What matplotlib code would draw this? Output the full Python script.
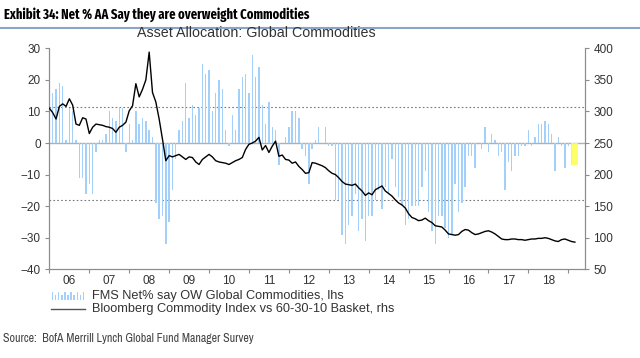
import numpy as np
import pandas as pd
import matplotlib
matplotlib.use("Agg")
import matplotlib.pyplot as plt
from matplotlib import font_manager

# ====================
# DATOS
# ====================
# FMS net % saying overweight global commodities (monthly, Jan 2006 - Feb 2019)
fms_net = [
    16, 17, 19, 18, 1, 11, 10, 1, -11, -11, -16, -13,          # 2006
    -16, -3, 1, 1, 3, 10, 8, 7, 11, 11, -3, 6,                 # 2007
    1, 10, 6, 8, 7, 4, 2, -19, -24, -23, -32, -25,             # 2008
    -15, -5, 4, 7, 19, 8, 12, 9, 11, 25, 22, 23,               # 2009
    10, 16, 20, 17, 4, -1, 9, 4, 17, 21, 22, 16,               # 2010
    28, 21, 24, 12, 6, 13, 5, 4, -7, 0, 2, 5,                  # 2011
    10, 10, 8, -2, -4, -13, -2, 1, 5, 0, 5, -1,                # 2012
    -1, -18, -18, -29, -32, -26, -23, -16, -28, -24, -31, -23, # 2013
    -23, -18, -15, -21, -14, -16, -5, -14, -17, -20, -26, -24, # 2014
    -20, -20, -20, -14, -9, -22, -28, -32, -23, -23, -27, -30, # 2015
    -29, -13, -22, -19, -14, -4, -4, -8, 0, -2, 5, -3,         # 2016
    3, 1, -4, -3, -15, -6, -9, -4, -4, -1, -1, 4,              # 2017
    -1, 2, 6, 6, 7, 6, 3, -9, 2, -1, -8, -1,                   # 2018
    -7, -7,                                                    # 2019
]
fms_start = "2006-01"

# Bloomberg Commodity Index vs 60-30-10 basket (rhs), start of each month
bcom_rel = [
    305, 298, 288, 308, 312, 308, 320, 310, 280, 278, 290, 288,  # 2006
    265, 275, 280, 279, 278, 276, 275, 273, 267, 275, 278, 283,  # 2007
    301, 309, 344, 323, 335, 350, 394, 330, 315, 288, 256, 222,  # 2008
    230, 228, 230, 232, 228, 224, 228, 227, 220, 216, 224, 228,  # 2009
    232, 228, 222, 220, 219, 218, 216, 219, 222, 224, 227, 240,  # 2010
    248, 250, 253, 259, 239, 246, 235, 245, 253, 229, 231, 224,  # 2011
    223, 218, 220, 213, 208, 202, 203, 219, 218, 216, 214, 211,  # 2012
    206, 202, 200, 195, 189, 185, 184, 183, 185, 179, 174, 167,  # 2013
    171, 168, 176, 179, 182, 174, 170, 166, 160, 155, 152, 147,  # 2014
    138, 132, 130, 127, 128, 131, 127, 124, 119, 118, 117, 112,  # 2015
    106, 105, 104, 105, 110, 113, 112, 108, 105, 106, 108, 110,  # 2016
    111, 109, 106, 102, 98, 97, 97, 98, 98, 97, 97, 96,          # 2017
    97, 98, 98, 99, 99, 100, 99, 97, 95, 94, 97, 98,             # 2018
    96, 94, 93,                                                  # 2019
]
bcom_start = "2006-01"

upper_band = 11.5
lower_band = -18

year_labels = ["06", "07", "08", "09", "10", "11", "12",
               "13", "14", "15", "16", "17", "18"]

# ====================
# ESTILO
# ====================
disponibles = {f.name for f in font_manager.fontManager.ttflist}

def elegir(*opciones):
    for o in opciones:
        if o in disponibles:
            return o
    return "DejaVu Sans"

fuente = elegir("Liberation Sans", "Arimo")
fuente_titulo = elegir("Fira Sans Extra Condensed", "Fira Sans Condensed", "Archivo Narrow")
fuente_fuente = elegir("Archivo Narrow", "Fira Sans Extra Condensed")
plt.rcParams["font.family"] = [fuente, "DejaVu Sans"]

azul = "#a3d0fb"
gris_txt = "#333333"
gris_eje = "#8c8c8c"

meses_fms = pd.period_range(fms_start, periods=len(fms_net), freq="M")
x_fms = meses_fms.year + meses_fms.month / 12.0          # fin de mes
meses_bc = pd.period_range(bcom_start, periods=len(bcom_rel), freq="M")
x_bc = meses_bc.year + (meses_bc.month - 1) / 12.0       # inicio de mes

# ====================
# FIGURA
# ====================
W, H = 640, 358
fig = plt.figure(figsize=(W / 100, H / 100), dpi=100)
ax = fig.add_axes([49 / W, 1 - 269.3 / H, 536 / W, 221 / H])
ax2 = ax.twinx()

ax.axhline(0, color="#b0b0b0", lw=1.0, zorder=1)
ax.axhline(upper_band, color="#7a7a7a", lw=0.8, ls=(0, (1.5, 2)), zorder=1)
ax.axhline(lower_band, color="#7a7a7a", lw=0.8, ls=(0, (1.5, 2)), zorder=1)

ax.bar(x_fms[:-1], fms_net[:-1], width=0.035, color=azul, zorder=2)
ax.bar(x_fms[-1:], fms_net[-1:], width=0.17, color="#ffff4d", alpha=0.85,
       zorder=3)

ax2.plot(x_bc, bcom_rel, color="black", lw=1.0, zorder=4)

ax.set_xlim(2005.99, 2019.42)
ax.set_ylim(-40, 30)
ax2.set_ylim(50, 400)
ax.set_yticks(np.arange(-40, 31, 10))
ax2.set_yticks(np.arange(50, 401, 50))

years = np.arange(2006, 2020)
ax.set_xticks(years)
ax.set_xticklabels([])
ax.set_xticks(years[:-1] + 0.5, minor=True)
ax.set_xticklabels(year_labels, minor=True)
ax.tick_params(axis="x", which="minor", length=0, pad=4)
ax.tick_params(axis="x", which="major", length=3, color=gris_eje)

for a in (ax, ax2):
    a.spines["top"].set_visible(False)
    for s in ("left", "right", "bottom"):
        a.spines[s].set_color(gris_eje)
    a.tick_params(axis="y", length=3, color=gris_eje, labelsize=8.5,
                  labelcolor=gris_txt, pad=3)
ax.tick_params(axis="x", which="both", labelsize=8.5, labelcolor=gris_txt)
ax.set_zorder(ax2.get_zorder() - 1)
ax.patch.set_visible(True)
ax2.patch.set_visible(False)

# ====================
# TEXTOS
# ====================
titulo = fig.text(4 / W, 1 - 15 / H,
                  "Exhibit 34: Net % AA Say they are overweight Commodities",
                  family=[fuente_titulo, "DejaVu Sans"], fontsize=11,
                  fontweight="bold", color="black", va="center")
fig.add_artist(plt.Line2D([0, 1], [1 - 27.5 / H, 1 - 27.5 / H],
                          color="#8aa4c6", lw=1.5))
subtitulo = fig.text(256 / W, 1 - 33 / H, "Asset Allocation: Global Commodities",
                     fontsize=10.3, color=gris_txt, ha="center", va="center")

# leyenda
icono = fig.add_axes([51 / W, 1 - 299.5 / H, 34 / W, 8 / H])
alturas_icono = [1, 0.55, 1, 0.55, 1, 0.55, 1, 0.55, 1, 0.55, 1]
icono.bar(np.arange(len(alturas_icono)), alturas_icono, width=0.45, color=azul)
icono.set_xlim(-0.5, len(alturas_icono) - 0.5)
icono.set_ylim(0, 1)
icono.axis("off")
fig.add_artist(plt.Line2D([51 / W, 85 / W], [1 - 308.5 / H, 1 - 308.5 / H],
                          color="#555555", lw=1.0))
fig.text(92 / W, 1 - 295.5 / H, "FMS Net% say OW Global Commodities, lhs",
         fontsize=9.2, color=gris_txt, va="center")
fig.text(92 / W, 1 - 309 / H,
         "Bloomberg Commodity Index vs 60-30-10 Basket, rhs",
         fontsize=9.2, color=gris_txt, va="center")

fuente_txt = fig.text(3 / W, 1 - 339 / H,
                      "Source:  BofA Merrill Lynch Global Fund Manager Survey",
                      family=[fuente_fuente, "DejaVu Sans"], fontsize=8,
                      color="#444444", va="center")

# ajustar título y fuente al ancho que ocupan en la referencia
fig.canvas.draw()
rend = fig.canvas.get_renderer()
for t, ancho in [(titulo, 305), (fuente_txt, 249)]:
    w = t.get_window_extent(rend).width
    t.set_fontsize(t.get_fontsize() * ancho / w)

fig.savefig("out.png", dpi=100)
